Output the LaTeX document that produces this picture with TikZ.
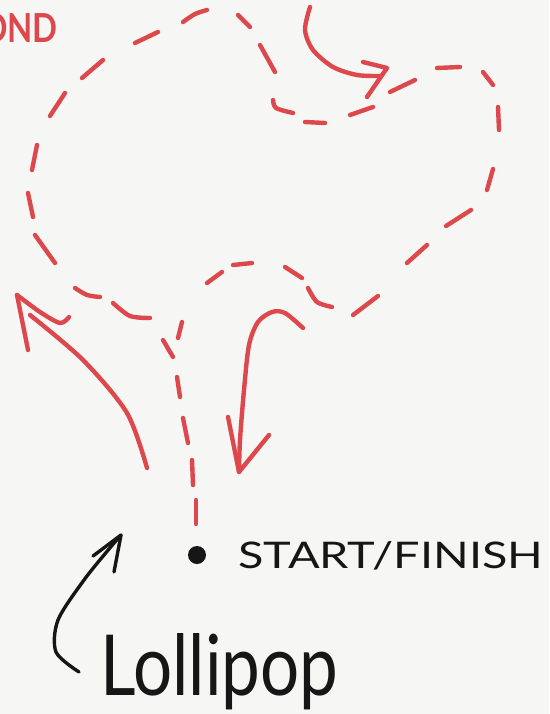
\documentclass[tikz,border=0pt]{standalone}
\usepackage{fontspec}
\setmainfont{Lato}
\usepackage{graphicx}
\definecolor{pen}{RGB}{221,72,76}
\definecolor{ink}{RGB}{22,22,22}
\definecolor{paper}{RGB}{246,246,244}
\begin{document}
\begin{tikzpicture}[x=1pt,y=-1pt,
  redline/.style={draw=pen,line width=4.4pt,line cap=round,line join=round},
  dsh/.style={redline},
  inkline/.style={draw=ink,line width=3.4pt,line cap=round,line join=round}]
\clip (0,0) rectangle (549,714);
\fill[paper] (0,0) rectangle (549,714);

% red label, cut by the left edge
\node[anchor=base east,text=pen,inner sep=0] (ond) at (58,43) {\fontsize{40}{40}\selectfont\bfseries\scalebox{0.82}[1]{OND}};

% dashed route: stem
\draw[dsh] (196,500) -- (196,524);
\draw[dsh] (192,460) -- (193,485);
\draw[dsh] (183,418) -- (188,443);
\draw[dsh] (177,377) -- (180,397);
\draw[dsh] (163,340) -- (173,357);
% left lobe
\draw[dsh] plot[smooth] coordinates {(113,303) (130,316) (150,318)};
\draw[dsh] plot[smooth] coordinates {(75,288) (87,295) (100,297)};
\draw[dsh] (35,235) -- (55,263);
\draw[dsh] (28,193) -- (33,217);
\draw[dsh] (37,145) -- (32,170);
\draw[dsh] (50,116) -- (65,93);
\draw[dsh] (82,78) -- (103,60);
\draw[dsh] (135,43) -- (158,32);
\draw[dsh] plot[smooth] coordinates {(183,22) (195,14) (207,10)};
\draw[dsh] (238,15) -- (250,27);
\draw[dsh] (260,45) -- (275,72);
\draw[dsh] plot[smooth] coordinates {(273,100) (276,108) (293,113)};
\draw[dsh] (305,122) -- (325,123);
\draw[dsh] (350,115) -- (373,107);
\draw[dsh] (390,92) -- (415,80);
\draw[dsh] (437,68) -- (460,67);
\draw[dsh] (483,72) -- (493,85);
\draw[dsh] (498,107) -- (499,130);
\draw[dsh] (493,169) -- (487,190);
\draw[dsh] (471,210) -- (446,226);
\draw[dsh] (427,245) -- (407,263);
\draw[dsh] (378,296) -- (353,315);
\draw[dsh] plot[smooth] coordinates {(332,307) (317,302) (308,288)};
\draw[dsh] (302,278) -- (285,267);
\draw[dsh] (252,263) -- (233,265);
\draw[dsh] (222,272) -- (207,283);
\draw[dsh] (182,322) -- (178,338);

% top arrow
\draw[redline] plot[smooth] coordinates {(310,7) (305,30) (313,50) (333,67) (357,75) (381,76)};
\draw[redline] (363,62) -- (387,68) -- (367,97);

% left arrow
\draw[redline] plot[smooth] coordinates {(147,468) (127,413) (83,360) (30,315)};
\draw[redline] (28,350) -- (17,295);
\draw[redline] plot[smooth] coordinates {(17,295) (40,312) (60,323) (69,317)};

% down arrow
\draw[redline] plot[smooth] coordinates {(303,328) (285,313) (272,312) (258,322) (249,345) (244,390) (240,440) (239,472)};
\draw[redline] (228,417) -- (239,472) -- (269,435);

% start point
\node[circle,fill=ink,minimum size=18pt,inner sep=0] (start) at (197,555) {};
\node[anchor=base west,inner sep=0,text=ink] (startlabel) at (238,568)
  {\resizebox{305pt}{27pt}{START/FINISH}};

% lollipop label and arrow
\node[anchor=base west,inner sep=0,text=ink] (lolli) at (100,695)
  {\resizebox{238pt}{62pt}{Lollipop}};
\draw[inkline] plot[smooth] coordinates {(79,672) (56,652) (58,620) (84,580) (109,549) (121,535)};
\draw[inkline] (93,556) -- (121,535) -- (114,572);
\end{tikzpicture}
\end{document}
